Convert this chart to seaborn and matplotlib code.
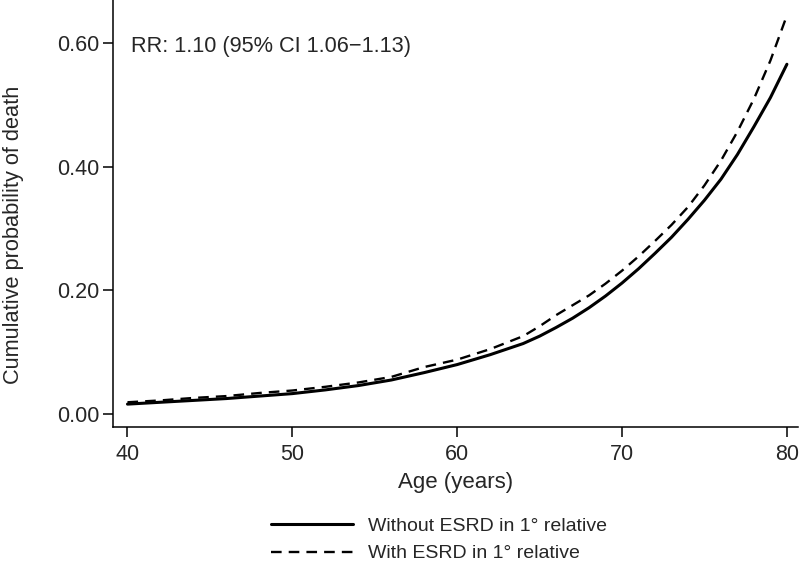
import numpy as np
import pandas as pd
import matplotlib
matplotlib.use("Agg")
import matplotlib.pyplot as plt
import seaborn as sns

# Values
age = [40, 42, 44, 46, 48, 50, 52, 54, 56, 58, 60, 62,
       64, 65, 66, 67, 68, 69, 70, 71, 72, 73, 74, 75, 76, 77, 78, 79, 80]
prob_without = [0.016, 0.019, 0.022, 0.025, 0.029, 0.033, 0.039, 0.046, 0.055, 0.067, 0.080, 0.096,
                0.114, 0.126, 0.140, 0.155, 0.172, 0.191, 0.212, 0.235, 0.260, 0.286, 0.315,
                0.346, 0.380, 0.420, 0.465, 0.512, 0.566]
prob_with = [0.019, 0.022, 0.026, 0.029, 0.034, 0.038, 0.044, 0.051, 0.060, 0.076, 0.088, 0.105,
             0.126, 0.142, 0.160, 0.176, 0.192, 0.211, 0.232, 0.255, 0.280, 0.306, 0.335,
             0.370, 0.410, 0.457, 0.510, 0.572, 0.645]
labels = ["Without ESRD in 1° relative", "With ESRD in 1° relative"]
y_ticks = [0.0, 0.2, 0.4, 0.6]
x_ticks = [40, 50, 60, 70, 80]

df_without = pd.DataFrame({"age": age, "prob": prob_without})
df_with = pd.DataFrame({"age": age, "prob": prob_with})

sns.set_style("ticks")
plt.rcParams["font.family"] = ["Liberation Sans", "DejaVu Sans"]

fig = plt.figure(figsize=(8.03, 5.69), dpi=100)
ax = fig.add_axes([0.1407, 0.2496, 0.853, 0.7504])

sns.lineplot(data=df_without, x="age", y="prob", color="black", linewidth=2.2,
             label=labels[0], ax=ax, legend=False)
sns.lineplot(data=df_with, x="age", y="prob", color="black", linewidth=1.7,
             linestyle=(0, (4.5, 3)), label=labels[1], ax=ax, legend=False)

ax.set_xlim(39.12, 80.67)
ax.set_ylim(-0.021, 0.67)
ax.set_xticks(x_ticks)
ax.set_yticks(y_ticks)
ax.set_yticklabels([f"{v:.2f}" for v in y_ticks])
ax.tick_params(axis="both", labelsize=15.5, length=7, width=1.1, color="black")
ax.tick_params(axis="x", pad=5)
ax.tick_params(axis="y", pad=3)
sns.despine(ax=ax)
for side in ["left", "bottom"]:
    ax.spines[side].set_linewidth(1.1)
    ax.spines[side].set_color("black")

ax.set_xlabel("Age (years)", fontsize=16, labelpad=5)
ax.set_ylabel("Cumulative probability of death", fontsize=15.7)
ax.yaxis.set_label_coords(-0.13, 0.45)

ax.text(40.2, 0.594, "RR: 1.10 (95% CI 1.06\u22121.13)", fontsize=15.7, va="center", ha="left")

handles, lbls = ax.get_legend_handles_labels()
fig.legend(handles, lbls, loc="center left", bbox_to_anchor=(0.338, 0.051),
           frameon=False, fontsize=14, handlelength=4.2, handletextpad=0.75,
           labelspacing=0.5, borderpad=0, borderaxespad=0)

fig.savefig("out.png", dpi=100, facecolor="white")
